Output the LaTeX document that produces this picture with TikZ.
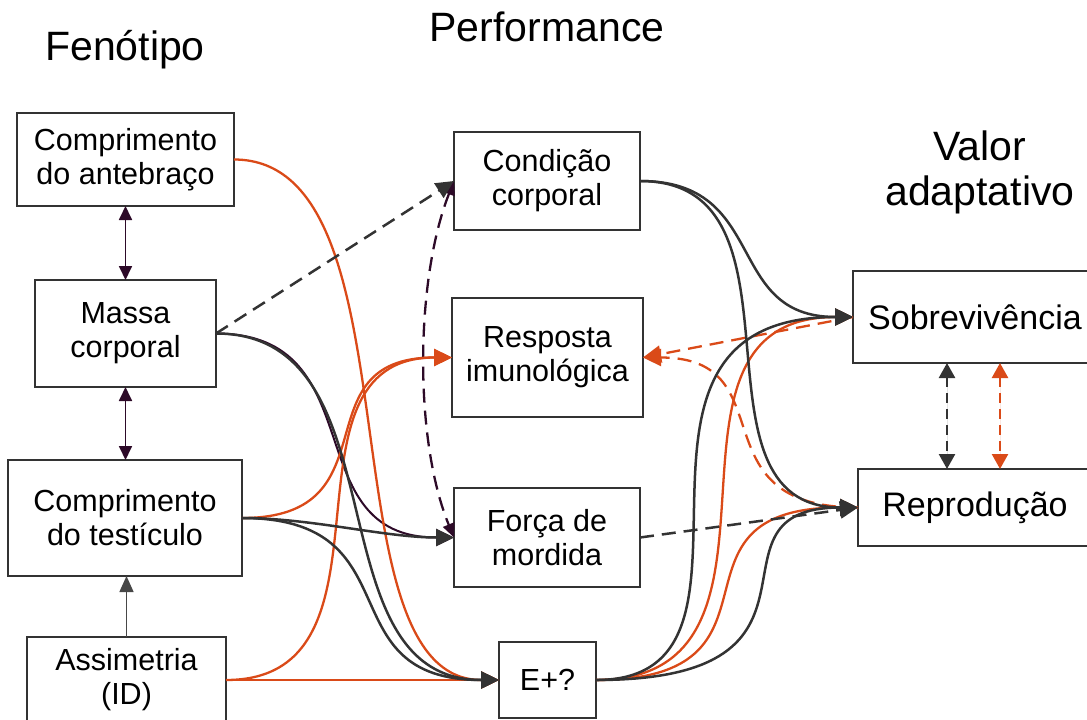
\documentclass[tikz,border=0pt]{standalone}
\usepackage{fontspec}
\setmainfont{Liberation Sans}
\usetikzlibrary{arrows.meta,calc}
\definecolor{dgray}{HTML}{333333}
\definecolor{orng}{RGB}{218,74,24}
\definecolor{purp}{RGB}{45,10,40}
\begin{document}
\begin{tikzpicture}[x=1pt,y=-1pt,
  box/.style={draw=dgray, line width=1.8pt, align=center, inner sep=0pt, outer sep=0pt,
    font=\fontsize{30.5}{34}\selectfont, text=black},
  bigbox/.style={box, font=\fontsize{34}{38}\selectfont},
  ttl/.style={font=\fontsize{41}{46}\selectfont, anchor=base, inner sep=0pt},
  g/.style={draw=dgray, line width=2.5pt, -{Triangle[length=18pt,width=17pt]}},
  gd/.style={g, dash pattern=on 14pt off 8pt},
  og/.style={draw=orng, line width=2.3pt, -{Triangle[length=18pt,width=17pt]}},
  ogd/.style={og, dash pattern=on 14pt off 8pt},
  pp/.style={draw=purp, line width=2pt, -{Triangle[length=18pt,width=17pt]}},
  ppd/.style={draw=purp, line width=2.3pt, dash pattern=on 14pt off 8pt,
    {Triangle[length=14pt,width=12pt]}-{Triangle[length=14pt,width=12pt]}},
  vpp/.style={draw=purp, line width=1.8pt,
    {Triangle[length=14pt,width=13pt]}-{Triangle[length=14pt,width=13pt]}},
  vd/.style={line width=2.5pt, dash pattern=on 10pt off 6pt,
    {Triangle[length=15pt,width=16pt]}-{Triangle[length=15pt,width=16pt]}},
]
\useasboundingbox (0,0) rectangle (1087,720);

% titles
\node[ttl] (tfen) at (125,60) {Fenótipo};
\node[ttl] (tperf) at (547,41) {Performance};
\node[ttl] (tval1) at (980,160) {Valor};
\node[ttl] (tval2) at (980,205) {adaptativo};

% boxes
\node[box, minimum width=217pt, minimum height=93pt] (ante) at (125.5,159.5) {Comprimento\\do antebraço};
\node[box, minimum width=181pt, minimum height=107pt] (massa) at (125.5,333.5) {Massa\\corporal};
\node[box, minimum width=234pt, minimum height=116pt] (test) at (125,518) {Comprimento\\do testículo};
\node[box, minimum width=199pt, minimum height=86pt] (assim) at (126.5,680) {Assimetria\\(ID)};

\node[box, minimum width=186pt, minimum height=98pt] (cond) at (547,181) {Condição\\corporal};
\node[box, minimum width=191pt, minimum height=119pt] (resp) at (547.5,357.5) {Resposta\\imunológica};
\node[box, minimum width=186pt, minimum height=99pt] (forca) at (547,537.5) {Força de\\mordida};
\node[box, minimum width=97pt, minimum height=76pt] (eplus) at (547.5,680) {E+?};

\node[bigbox, minimum width=244pt, minimum height=92pt] (sobr) at (975,317) {Sobrevivência};
\node[bigbox, minimum width=234pt, minimum height=77pt] (repr) at (975,507.5) {Reprodução};

\coordinate (c1) at (947,0);
\coordinate (c2) at (1000,0);

% purple connectors
\draw[vpp] (ante.south) -- (massa.north);
\draw[vpp] (massa.south) -- (massa.south |- test.north);
\draw[pp] (massa.east) .. controls +(160,0) and +(-160,0) .. (forca.west);
\draw[ppd] (cond.west) .. controls +(-39,99) and +(-40,-97) .. (forca.west);

% orange connectors
\draw[og] (ante.east) .. controls +(189,0) and +(-179,0) .. (eplus.west);
\draw[og] (test.east) .. controls +(155,0) and +(-155,0) .. (resp.west);
\draw[og] (assim.east) .. controls +(185,0) and +(-185,0) .. (resp.west);
\draw[og] (assim.east) -- (eplus.west);
\draw[og] (eplus.east) .. controls +(225,0) and +(-225,0) .. (sobr.west);
\draw[og] (eplus.east) .. controls +(208,0) and +(-208,0) .. (repr.west);
\draw[ogd] (sobr.west) -- (resp.east);
\draw[ogd] (repr.west) .. controls +(-165,0) and +(145,0) .. (resp.east);
\draw[vd, draw=orng, fill=orng] (sobr.south -| c2) -- (repr.north -| c2);

% gray connectors
\draw[gd] (massa.east) -- (cond.west);
\draw[g] (massa.east) .. controls +(190,0) and +(-190,0) .. (eplus.west);
\draw[g] (test.east) .. controls +(70,0) and +(-70,0) .. (forca.west);
\draw[g] (test.east) .. controls +(175,0) and +(-175,0) .. (eplus.west);
\draw[g] (cond.east) .. controls +(130,0) and +(-130,0) .. (sobr.west);
\draw[g] (cond.east) .. controls +(180,0) and +(-180,0) .. (repr.west);
\draw[g] (eplus.east) .. controls +(202,0) and +(-277,0) .. (sobr.west);
\draw[g] (eplus.east) .. controls +(262,0) and +(-167,0) .. (repr.west);
\draw[gd] (forca.east) -- (repr.west);
\draw[vd, draw=dgray, fill=dgray] (sobr.south -| c1) -- (repr.north -| c1);
\draw[draw=dgray!90, line width=1.5pt, -{Triangle[length=16pt,width=14pt]}] (assim.north) -- (assim.north |- test.south);
\end{tikzpicture}
\end{document}
